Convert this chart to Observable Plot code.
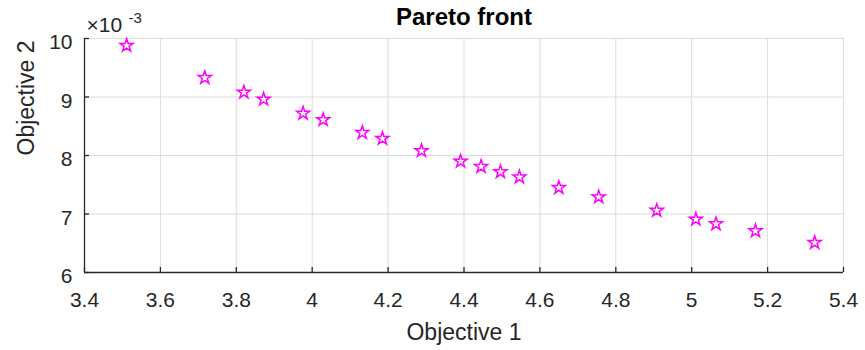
<!DOCTYPE html>
<html>
<head>
<meta charset="utf-8">
<script src="https://cdn.jsdelivr.net/npm/d3@7"></script>
<script src="https://cdn.jsdelivr.net/npm/@observablehq/plot@0.6"></script>
<style>
  html, body { margin: 0; padding: 0; background: #fff; }
  #chart svg { display: block; }
</style>
</head>
<body>
<div id="chart"></div>
<script>
// Pareto front points
const objective1 = [3.511, 3.717, 3.820, 3.872, 3.976, 4.029, 4.132, 4.185, 4.288, 4.391,
                    4.445, 4.496, 4.546, 4.650, 4.755, 4.908, 5.011, 5.064, 5.168, 5.324];
const objective2 = [9.88e-3, 9.33e-3, 9.08e-3, 8.96e-3, 8.72e-3, 8.61e-3, 8.39e-3, 8.29e-3, 8.08e-3, 7.90e-3,
                    7.81e-3, 7.72e-3, 7.63e-3, 7.45e-3, 7.29e-3, 7.06e-3, 6.91e-3, 6.83e-3, 6.71e-3, 6.51e-3];
const xTicks = [3.4, 3.6, 3.8, 4.0, 4.2, 4.4, 4.6, 4.8, 5.0, 5.2, 5.4];
const yTicks = [6e-3, 7e-3, 8e-3, 9e-3, 10e-3];
const titleText = "Pareto front";
const xLabel = "Objective 1";
const yLabel = "Objective 2";
const expBase = "×10";
const expPower = "-3";

const points = objective1.map((x, i) => ({x, y: objective2[i]}));
const axisColor = "#262626";
const gridColor = "#dcdcdc";
const font = "'Liberation Sans', Arial, Helvetica, sans-serif";

const chart = Plot.plot({
  width: 865,
  height: 350,
  marginLeft: 84,
  marginRight: 22,
  marginTop: 38,
  marginBottom: 78,
  style: {fontFamily: font, background: "#fff", overflow: "visible"},
  x: {domain: [3.4, 5.4]},
  y: {domain: [6e-3, 10e-3]},
  marks: [
    Plot.gridX(xTicks, {stroke: gridColor, strokeOpacity: 1, strokeWidth: 1}),
    Plot.gridY(yTicks, {stroke: gridColor, strokeOpacity: 1, strokeWidth: 1}),
    // inward tick marks (MATLAB style)
    Plot.axisX(xTicks, {
      tickSize: 5, dy: -5, color: axisColor, strokeWidth: 1.3,
      tickFormat: () => "", label: null
    }),
    Plot.axisY(yTicks, {
      tickSize: 5, dx: 5, color: axisColor, strokeWidth: 1.3,
      tickFormat: () => "", label: null
    }),
    // tick labels
    Plot.axisX(xTicks, {
      tickSize: 0, tickPadding: 20, fontSize: 21, color: axisColor,
      tickFormat: d => String(+d.toFixed(1)), label: null
    }),
    Plot.axisY(yTicks, {
      tickSize: 0, tickPadding: 12, fontSize: 21, color: axisColor, dy: 4,
      tickFormat: d => String(Math.round(d * 1000)), label: null
    }),
    Plot.ruleX([3.4], {stroke: axisColor, strokeWidth: 1.3}),
    Plot.ruleY([6e-3], {stroke: axisColor, strokeWidth: 1.3}),
    Plot.dot(points, {
      x: "x", y: "y", symbol: "star", r: 4.1,
      stroke: "#ff00ff", fill: "none", strokeWidth: 1.5
    }),
    Plot.text([titleText], {
      text: d => d, frameAnchor: "top", dy: -21, lineAnchor: "middle",
      fontSize: 24, fontWeight: "bold", fill: "#000"
    }),
    Plot.text([expBase], {
      text: d => d, frameAnchor: "top-left", textAnchor: "start", dx: 2, dy: -13,
      lineAnchor: "middle", fontSize: 21, fill: axisColor
    }),
    Plot.text([expPower], {
      text: d => d, frameAnchor: "top-left", textAnchor: "start", dx: 44, dy: -20,
      lineAnchor: "middle", fontSize: 15, fill: axisColor
    }),
    Plot.text([xLabel], {
      text: d => d, frameAnchor: "bottom", dy: 60, lineAnchor: "middle",
      fontSize: 23, fill: axisColor
    }),
    Plot.text([yLabel], {
      text: d => d, frameAnchor: "left", dx: -58, rotate: -90, lineAnchor: "middle",
      fontSize: 23, fill: axisColor
    })
  ]
});
document.getElementById("chart").appendChild(chart);
</script>
</body>
</html>
